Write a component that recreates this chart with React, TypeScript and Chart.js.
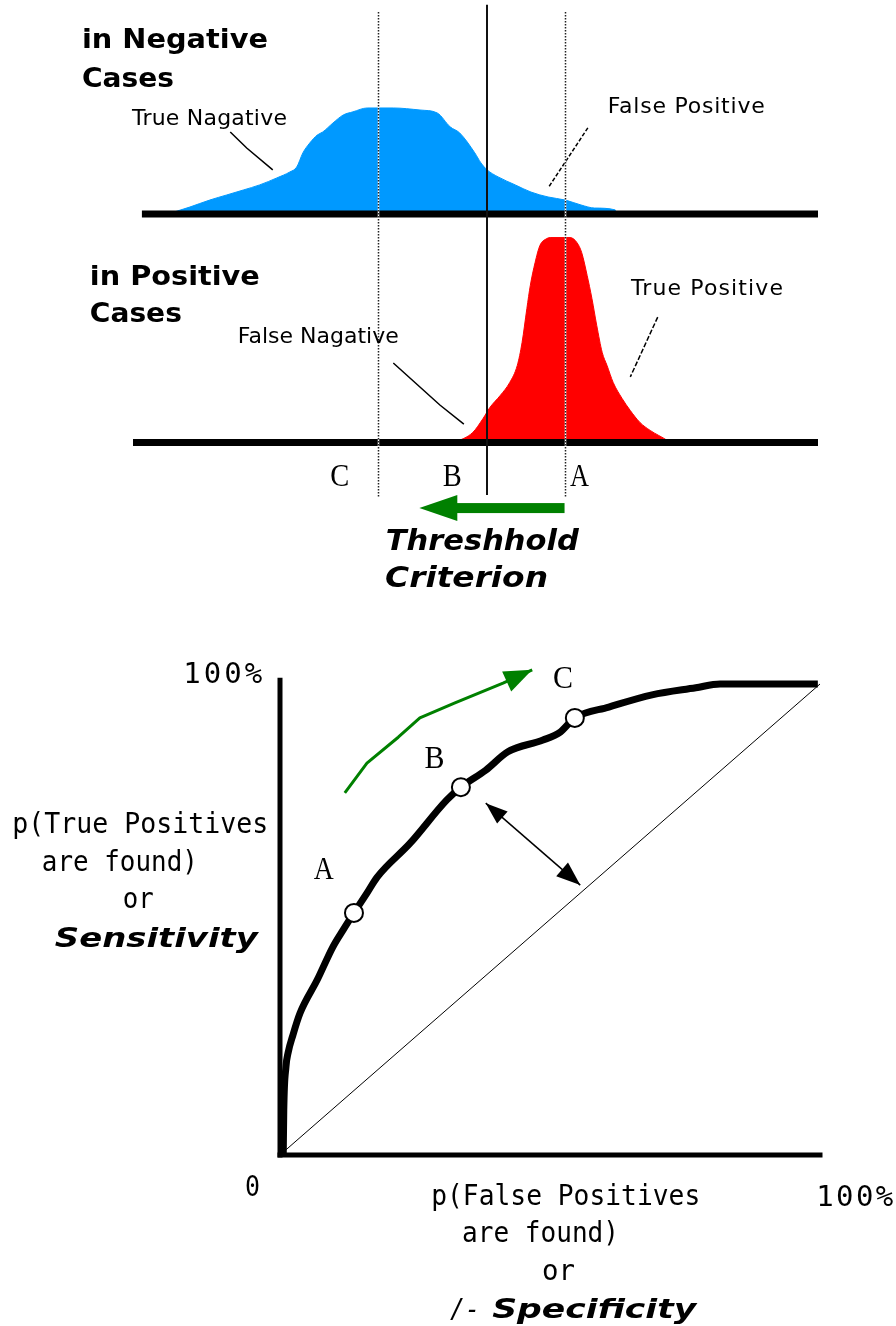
import React, { useEffect, useRef } from 'react';
import { Chart, registerables } from 'chart.js';

Chart.register(...registerables);

// ---------------- Top: score distributions (score 0..100, relative frequency) ----------------
const negScore = [5.1, 8.3, 11.2, 13.7, 16.1, 18.5, 21.0, 22.9, 23.9, 24.8, 25.8, 26.9, 27.7, 29.2, 30.7, 32.1, 34.2, 38.0, 41.9, 44.4, 46.3, 47.7, 49.9, 50.8, 51.7, 53.3, 55.8, 58.1, 60.6, 63.1, 65.4, 67.4, 70.4, 70.5];
const negFreq = [0, 3.4, 6.8, 9.3, 11.7, 14.2, 17.6, 20.5, 22.9, 29.8, 34.6, 38.5, 40.0, 44.4, 48.3, 49.8, 51.7, 51.7, 50.7, 49.3, 42.5, 39.5, 29.8, 24.9, 21.5, 18.1, 14.2, 10.7, 8.3, 6.8, 4.4, 2.9, 2.0, 0];
const posScore = [47.0, 49.6, 51.1, 52.1, 53.6, 55.0, 56.1, 56.8, 57.5, 58.0, 58.7, 59.4, 60.4, 60.9, 63.8, 64.8, 65.5, 66.3, 67.0, 67.7, 68.5, 69.2, 70.1, 71.4, 72.6, 74.0, 75.5, 78.0, 78.4];
const posFreq = [0, 4.9, 11.7, 17.1, 22.9, 29.3, 37.6, 48.8, 65.4, 76.6, 87.8, 96.1, 99.5, 100, 100, 97.6, 92.7, 81.5, 70.2, 57.1, 43.9, 37.6, 29.3, 21.5, 15.6, 9.8, 5.9, 1.0, 0];
const negBaselineX = [1.3, 100];
const posBaselineX = [0, 100];

const thresholdLabels = ['C', 'B', 'A'];
const thresholdScores = [35.8, 51.7, 63.0];
const thresholdLabelX = [30.2, 46.6, 65.2];
const currentThreshold = 'B';
const thresholdShift = [63.0, 41.8]; // green arrow: criterion moves from A towards C

// ---------------- Bottom: ROC curve (percent) ----------------
const rocFpr = [0.6, 0.7, 1.1, 1.5, 2.4, 3.7, 6.9, 9.8, 11.7, 13.7, 16.1, 18.0, 24.1, 30.9, 33.5, 38.1, 42.2, 48.7, 51.9, 54.6, 60.9, 68.9, 77.0, 81.5, 99.6];
const rocTpr = [0, 9.6, 18.7, 21.7, 25.5, 30.1, 37.2, 44.2, 47.8, 51.4, 55.6, 59.0, 66.2, 75.4, 78.1, 81.7, 85.6, 88.1, 89.8, 92.8, 95.1, 97.7, 99.2, 100, 100];
const rocPointLabels = ['A', 'B', 'C'];
const rocPointFpr = [13.7, 33.5, 54.6];
const rocPointTpr = [51.4, 78.1, 92.8];
const rocLabelFpr = [8.1, 28.6, 52.4];
const rocLabelTpr = [58.6, 82.2, 99.2];
const chanceFpr = [0, 100];
const chanceTpr = [0, 100];
const shiftPathFpr = [12.0, 16.1, 21.9, 25.9, 32.4, 41.3, 46.7];
const shiftPathTpr = [76.9, 83.2, 88.7, 92.8, 96.0, 100.2, 103.0];
const gapArrowFpr = [38.1, 55.6];
const gapArrowTpr = [74.7, 57.3];

// ---------------- annotation leaders (top panel, data units) ----------------
const leaderTrueNeg = { x: [14.2, 16.6, 20.4], y: [40.0, 32.2, 21.5] };
const leaderFalsePos = { x: [66.4, 60.6], y: [42.0, 12.7] };
const leaderTruePos = { x: [76.6, 72.6], y: [61.2, 32.0] };
const leaderFalseNeg = { x: [38.0, 44.8, 48.3], y: [38.8, 18.3, 9.0] };

const BLUE = '#0099ff';
const RED = '#ff0000';
const GREEN = '#008000';

const F_BOLD = 'bold 27px "DejaVu Sans"';
const F_LABEL = '22px "DejaVu Sans"';
const F_BOLDIT = 'italic bold 28px "DejaVu Sans"';
const F_LETTER = '31px "Liberation Serif", "DejaVu Serif", serif';
const F_AXIS = '29px "DejaVu Sans Mono"';
const F_AXIS_IT = 'italic 27px "DejaVu Sans Mono"';
const F_TITLE_IT = 'italic bold 27px "DejaVu Sans"';

type TextSpec = {
  text: string; x: number; y: number; axis?: string; font: string;
  width?: number; align?: 'left' | 'center' | 'right'; mode?: 'space' | 'stretch';
};

const topTexts: TextSpec[] = [
  { text: 'in Negative', x: -7.45, y: 81.0, axis: 'yNeg', font: F_BOLD, width: 186, mode: 'stretch' },
  { text: 'Cases', x: -7.45, y: 62.0, axis: 'yNeg', font: F_BOLD, width: 92, mode: 'stretch' },
  { text: 'in Positive', x: -6.3, y: 76.8, axis: 'yPos', font: F_BOLD, width: 170, mode: 'stretch' },
  { text: 'Cases', x: -6.3, y: 58.8, axis: 'yPos', font: F_BOLD, width: 92, mode: 'stretch' },
  { text: 'True Nagative', x: -0.15, y: 43.4, axis: 'yNeg', font: F_LABEL, width: 155 },
  { text: 'False Positive', x: 69.3, y: 49.3, axis: 'yNeg', font: F_LABEL, width: 157 },
  { text: 'True Positive', x: 72.7, y: 72.0, axis: 'yPos', font: F_LABEL, width: 152 },
  { text: 'False Nagative', x: 15.3, y: 48.5, axis: 'yPos', font: F_LABEL, width: 161 },
  { text: 'Threshhold', x: 36.9, y: -52.4, axis: 'yPos', font: F_BOLDIT, width: 193, mode: 'stretch' },
  { text: 'Criterion', x: 36.8, y: -70.5, axis: 'yPos', font: F_BOLDIT, width: 163, mode: 'stretch' },
];
const thresholdLabelLevel = -21.0;
const thresholdArrowLevel = -32.0;
const lineTopValue = 98.5;
const lineBottomValue = -26.6;
const currentLineTopValue = 102;
const currentLineBottomValue = -25.6;

const rocTexts: TextSpec[] = [
  { text: '100%', x: -3.3, y: 100.2, font: F_AXIS, width: 79, align: 'right' },
  { text: '0', x: -3.7, y: -8.7, font: F_AXIS, width: 15, align: 'right', mode: 'stretch' },
  { text: '100%', x: 99.3, y: -10.8, font: F_AXIS, width: 77 },
  { text: 'p(True Positives', x: -49.6, y: 68.4, font: F_AXIS, width: 256 },
  { text: 'are found)', x: -44.1, y: 60.3, font: F_AXIS, width: 156 },
  { text: 'or', x: -29.1, y: 52.4, font: F_AXIS, width: 31 },
  { text: 'Sensitivity', x: -41.7, y: 44.2, font: F_TITLE_IT, width: 203, mode: 'stretch' },
  { text: 'p(False Positives', x: 28.0, y: -10.6, font: F_AXIS, width: 269 },
  { text: 'are found)', x: 33.7, y: -18.5, font: F_AXIS, width: 157 },
  { text: 'or', x: 48.5, y: -26.5, font: F_AXIS, width: 33 },
  { text: '/-', x: 31.5, y: -34.6, font: F_AXIS_IT, width: 30, mode: 'stretch' },
  { text: 'Specificity', x: 39.3, y: -34.6, font: F_TITLE_IT, width: 204, mode: 'stretch' },
];

function drawText(ctx: any, px: number, py: number, spec: TextSpec) {
  ctx.save();
  ctx.font = spec.font;
  ctx.fillStyle = '#000';
  ctx.textBaseline = 'alphabetic';
  ctx.textAlign = 'left';
  const natural = ctx.measureText(spec.text).width;
  const target = spec.width ?? natural;
  const align = spec.align ?? 'left';
  const left = align === 'center' ? px - target / 2 : align === 'right' ? px - target : px;
  if (spec.mode === 'stretch' || target < natural || spec.text.length < 2) {
    ctx.translate(left, py);
    ctx.scale(target / natural, 1);
    ctx.fillText(spec.text, 0, 0);
  } else {
    ctx.letterSpacing = `${(target - natural) / (spec.text.length - 1)}px`;
    ctx.fillText(spec.text, left, py);
  }
  ctx.restore();
}

function arrowHead(ctx: any, fx: number, fy: number, tx: number, ty: number, len: number, halfW: number, color: string) {
  const ang = Math.atan2(ty - fy, tx - fx);
  ctx.save();
  ctx.translate(tx, ty);
  ctx.rotate(ang);
  ctx.beginPath();
  ctx.moveTo(0, 0);
  ctx.lineTo(-len, -halfW);
  ctx.lineTo(-len, halfW);
  ctx.closePath();
  ctx.fillStyle = color;
  ctx.fill();
  ctx.restore();
}

const pts = (xs: number[], ys: number[]) => xs.map((x, i) => ({ x, y: ys[i] }));
const line = (data: any[], extra: any) => ({
  data, pointRadius: 0, pointHoverRadius: 0, fill: false, clip: false,
  borderColor: '#000', backgroundColor: '#000', borderCapStyle: 'butt', ...extra,
});

const topOverlay = {
  id: 'topOverlay',
  afterDatasetsDraw(chart: any) {
    const { ctx, scales } = chart;
    const x = scales.x, yNeg = scales.yNeg, yPos = scales.yPos;
    // threshold lines
    thresholdScores.forEach((score, i) => {
      const current = thresholdLabels[i] === currentThreshold;
      ctx.save();
      if (current) {
        const px = Math.round(x.getPixelForValue(score));
        ctx.strokeStyle = '#111';
        ctx.lineWidth = 2;
        ctx.beginPath();
        ctx.moveTo(px, yNeg.getPixelForValue(currentLineTopValue));
        ctx.lineTo(px, yPos.getPixelForValue(currentLineBottomValue));
        ctx.stroke();
      } else {
        const px = Math.round(x.getPixelForValue(score)) + 0.5;
        const t = yNeg.getPixelForValue(lineTopValue);
        const b = yPos.getPixelForValue(lineBottomValue);
        ctx.lineWidth = 1.5;
        ctx.strokeStyle = '#fff';
        ctx.beginPath(); ctx.moveTo(px, t); ctx.lineTo(px, b); ctx.stroke();
        ctx.strokeStyle = '#222';
        ctx.setLineDash([1.5, 1.5]);
        ctx.beginPath(); ctx.moveTo(px, t); ctx.lineTo(px, b); ctx.stroke();
      }
      ctx.restore();
      drawText(ctx, x.getPixelForValue(thresholdLabelX[i]), yPos.getPixelForValue(thresholdLabelLevel),
        { text: thresholdLabels[i], x: 0, y: 0, font: F_LETTER, align: 'center', width: 19, mode: 'stretch' });
    });
    // green arrow: criterion moves
    const ay = yPos.getPixelForValue(thresholdArrowLevel);
    const tail = x.getPixelForValue(thresholdShift[0]);
    const tip = x.getPixelForValue(thresholdShift[1]);
    const headLen = 38;
    ctx.save();
    ctx.fillStyle = GREEN;
    ctx.fillRect(tip + headLen - 1, ay - 5, tail - (tip + headLen - 1), 10);
    ctx.restore();
    arrowHead(ctx, tail, ay, tip, ay, headLen, 13, GREEN);
    topTexts.forEach((t) => {
      drawText(ctx, x.getPixelForValue(t.x), scales[t.axis as string].getPixelForValue(t.y), t);
    });
  },
};

const rocOverlay = {
  id: 'rocOverlay',
  afterDatasetsDraw(chart: any) {
    const { ctx, scales } = chart;
    const x = scales.x, y = scales.y;
    const n = shiftPathFpr.length;
    arrowHead(ctx,
      x.getPixelForValue(shiftPathFpr[n - 2]), y.getPixelForValue(shiftPathTpr[n - 2]),
      x.getPixelForValue(shiftPathFpr[n - 1]), y.getPixelForValue(shiftPathTpr[n - 1]), 28, 11, GREEN);
    const g0x = x.getPixelForValue(gapArrowFpr[0]), g0y = y.getPixelForValue(gapArrowTpr[0]);
    const g1x = x.getPixelForValue(gapArrowFpr[1]), g1y = y.getPixelForValue(gapArrowTpr[1]);
    arrowHead(ctx, g1x, g1y, g0x, g0y, 22, 8, '#000');
    arrowHead(ctx, g0x, g0y, g1x, g1y, 24, 9, '#000');
    rocPointLabels.forEach((lab, i) => {
      drawText(ctx, x.getPixelForValue(rocLabelFpr[i]), y.getPixelForValue(rocLabelTpr[i]),
        { text: lab, x: 0, y: 0, font: F_LETTER, align: 'center', width: 20, mode: 'stretch' });
    });
    rocTexts.forEach((t) => drawText(ctx, x.getPixelForValue(t.x), y.getPixelForValue(t.y), t));
  },
};

export default function App() {
  const topRef = useRef<HTMLCanvasElement | null>(null);
  const rocRef = useRef<HTMLCanvasElement | null>(null);

  useEffect(() => {
    if (!topRef.current || !rocRef.current) return;
    const common = {
      animation: false,
      responsive: false,
      maintainAspectRatio: false,
      events: [],
    };
    const top = new Chart(topRef.current, {
      type: 'line',
      data: {
        datasets: [
          line(pts(leaderTrueNeg.x, leaderTrueNeg.y), { yAxisID: 'yNeg', borderWidth: 1.5 }),
          line(pts(leaderFalsePos.x, leaderFalsePos.y), { yAxisID: 'yNeg', borderWidth: 1.5, borderDash: [4, 2] }),
          line(pts(leaderTruePos.x, leaderTruePos.y), { yAxisID: 'yPos', borderWidth: 1.5, borderDash: [5, 2] }),
          line(pts(leaderFalseNeg.x, leaderFalseNeg.y), { yAxisID: 'yPos', borderWidth: 1.5 }),
          line(pts(negBaselineX, [0, 0]), { yAxisID: 'yNeg', borderWidth: 7 }),
          line(pts(posBaselineX, [0, 0]), { yAxisID: 'yPos', borderWidth: 7 }),
          {
            data: pts(posScore, posFreq), yAxisID: 'yPos', fill: 'origin',
            backgroundColor: RED, borderColor: RED, borderWidth: 1, pointRadius: 0,
            cubicInterpolationMode: 'monotone',
          },
          {
            data: pts(negScore, negFreq), yAxisID: 'yNeg', fill: 'origin',
            backgroundColor: BLUE, borderColor: BLUE, borderWidth: 1, pointRadius: 0,
            cubicInterpolationMode: 'monotone',
          },
        ],
      },
      options: {
        ...common,
        layout: { padding: { left: 133, right: 78, top: 12, bottom: 157.5 } },
        plugins: { legend: { display: false }, tooltip: { enabled: false }, title: { display: false } },
        scales: {
          x: { type: 'linear', min: 0, max: 100, display: false },
          yPos: { type: 'linear', min: 0, max: 111.5, display: false, position: 'left', stack: 'panels', stackWeight: 228.5 },
          yNeg: { type: 'linear', min: 0, max: 98.5, display: false, position: 'left', stack: 'panels', stackWeight: 202 },
        },
      },
      plugins: [topOverlay],
    } as any);

    const roc = new Chart(rocRef.current, {
      type: 'line',
      data: {
        datasets: [
          {
            data: pts(rocPointFpr, rocPointTpr), showLine: false, clip: false,
            pointRadius: 9, pointHoverRadius: 9, pointBorderWidth: 2,
            pointBackgroundColor: '#fff', pointBorderColor: '#000',
          },
          line(pts(rocFpr, rocTpr), { borderWidth: 7, cubicInterpolationMode: 'monotone', borderJoinStyle: 'round' }),
          line(pts(shiftPathFpr, shiftPathTpr), { borderColor: GREEN, borderWidth: 3, borderJoinStyle: 'round' }),
          line(pts(gapArrowFpr, gapArrowTpr), { borderWidth: 1.5 }),
          line(pts([0, 0], [0, 100.8]), { borderWidth: 5, borderCapStyle: 'square' }),
          line(pts([0, 100], [0, 0]), { borderWidth: 5, borderCapStyle: 'square' }),
          line(pts(chanceFpr, chanceTpr), { borderWidth: 1 }),
        ],
      },
      options: {
        ...common,
        layout: { padding: { left: 280, right: 76, top: 84, bottom: 171 } },
        plugins: { legend: { display: false }, tooltip: { enabled: false }, title: { display: false } },
        scales: {
          x: { type: 'linear', min: 0, max: 100, display: false },
          y: { type: 'linear', min: 0, max: 100, display: false },
        },
      },
      plugins: [rocOverlay],
    } as any);

    return () => {
      top.destroy();
      roc.destroy();
    };
  }, []);

  return (
    <div style={{ position: 'absolute', left: 0, top: 0, width: 896, height: 1326, background: '#fff' }}>
      <canvas ref={topRef} width={896} height={600} style={{ position: 'absolute', left: 0, top: 0 }} />
      <canvas ref={rocRef} width={896} height={726} style={{ position: 'absolute', left: 0, top: 600 }} />
    </div>
  );
}
